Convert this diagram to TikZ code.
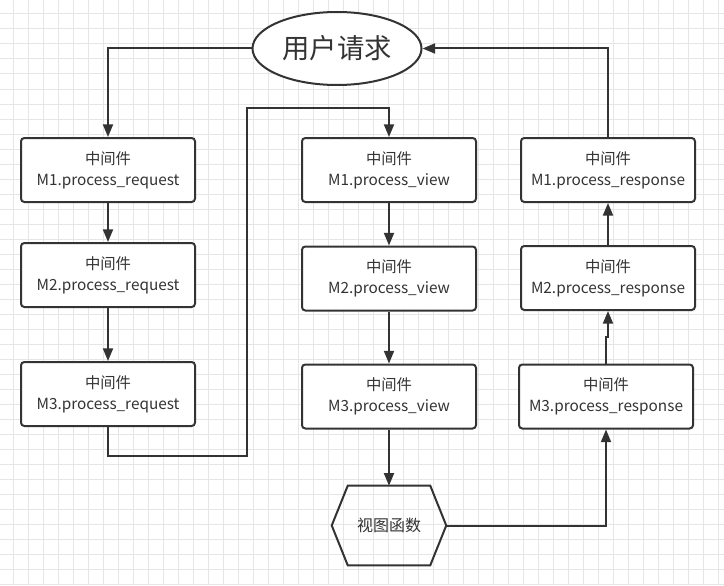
\documentclass[tikz,border=0pt]{standalone}
\usepackage{fontspec}
\setmainfont{Noto Sans CJK SC}
\usetikzlibrary{arrows.meta, shapes.geometric}
\definecolor{linecol}{HTML}{333333}
\definecolor{gridcol}{HTML}{E6E6E6}
\begin{document}
\begin{tikzpicture}[x=0.75pt, y=-0.75pt,
	box/.style={draw=linecol, line width=1.5pt, rounded corners=2.5pt, fill=white,
		minimum width=130.5pt, minimum height=48pt, align=center,
		font=\fontsize{11.5}{15.5}\selectfont, text=linecol},
	arr/.style={draw=linecol, line width=1.5pt, -{Triangle[length=9.5pt,width=7.5pt]}},
	link/.style={draw=linecol, line width=1.5pt}]
	\useasboundingbox (0, 0) rectangle (724, 585);
	\fill[white] (0, 0) rectangle (724, 585);
	% grid
	\foreach \gx in {13,28,...,724} \draw[gridcol, line width=0.75pt] (\gx, 0) -- (\gx, 585);
	\foreach \gy in {14,29,...,585} \draw[gridcol, line width=0.75pt] (0, \gy) -- (724, \gy);
		% request side
		\node [box] (req1) at (108, 170) {中间件\\M1.process\_request};
		\node [box] (req2) at (108, 275) {中间件\\M2.process\_request};
		\node [box] (req3) at (108, 394) {中间件\\M3.process\_request};
		% view side
		\node [box] (view1) at (389, 170) {中间件\\M1.process\_view};
		\node [box] (view2) at (389, 278.5) {中间件\\M2.process\_view};
		\node [box] (view3) at (389, 396.5) {中间件\\M3.process\_view};
		% response side
		\node [box] (resp1) at (608, 170) {中间件\\M1.process\_response};
		\node [box] (resp2) at (608, 278) {中间件\\M2.process\_response};
		\node [box] (resp3) at (606, 396.5) {中间件\\M3.process\_response};
		% user request
		\node [ellipse, draw=linecol, line width=1.5pt, fill=white, minimum width=126.75pt,
			minimum height=54.75pt, font=\fontsize{20.5}{24}\selectfont, text=linecol] (user) at (337, 48.5) {用户请求};
		% view function
		\node [minimum width=85.5pt, minimum height=59.25pt, inner sep=0pt,
			font=\fontsize{12}{14}\selectfont, text=linecol] (func) at (389, 525.5) {视图函数};
		\draw[link, line join=miter] (func.west) -- ([xshift=12pt]func.north west) -- ([xshift=-12pt]func.north east)
			-- (func.east) -- ([xshift=-12pt]func.south east) -- ([xshift=12pt]func.south west) -- cycle;
		\coordinate (low) at (247, 455.5);
		\coordinate (high) at (247, 108);
		% connectors
		\draw[arr] (user.west) -| (req1.north);
		\draw[arr] (req1.south) -- (req2.north);
		\draw[arr] (req2.south) -- (req3.north);
		\draw[arr] (req3.south) |- (low) -- (high) -| (view1.north);
		\draw[arr] (view1.south) -- (view2.north);
		\draw[arr] (view2.south) -- (view3.north);
		\draw[arr] (view3.south) -- (func.north);
		\draw[arr] (func.east) -| (resp3.south);
		\draw[arr] (resp3.north) -- ++(0, -27) -| (resp2.south);
		\draw[arr] (resp2.north) -- (resp1.south);
		\draw[arr] (resp1.north) |- (user.east);
\end{tikzpicture}
\end{document}
